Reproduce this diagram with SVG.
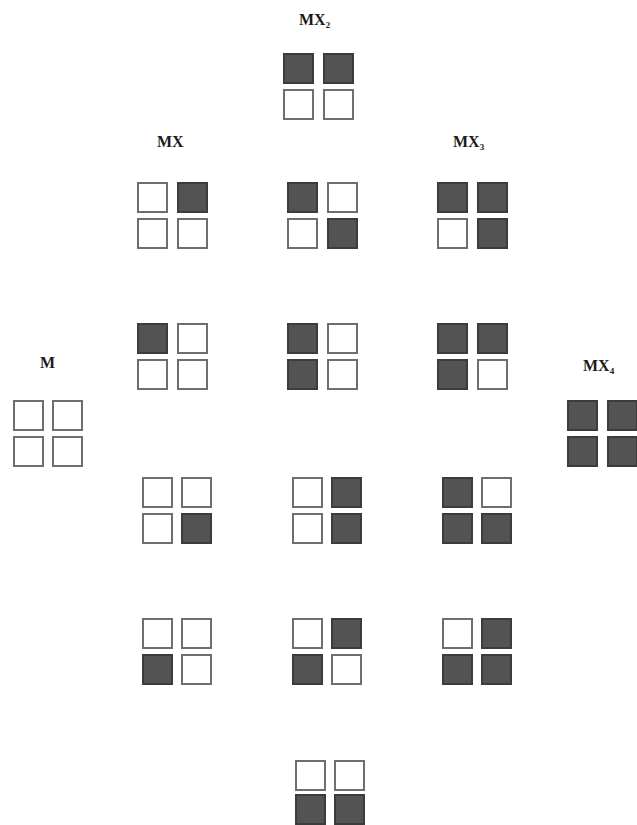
<svg xmlns="http://www.w3.org/2000/svg" width="637" height="825" viewBox="0 0 637 825">
<style>
.e{fill:#ffffff;stroke:#6e6e6e;stroke-width:2}
.f{fill:#535353;stroke:#3c3c3c;stroke-width:2}
.lbl{font-family:"Liberation Serif","Times New Roman",serif;font-weight:bold;font-size:16px;fill:#1a1a1a}
.sub{font-size:9px}
</style>
<rect width="637" height="825" fill="#ffffff"/>
<g id="label-MX2"><text class="lbl" x="299" y="25">MX<tspan class="sub" dy="3">2</tspan></text></g>
<g id="label-MX"><text class="lbl" x="157" y="147">MX</text></g>
<g id="label-MX3"><text class="lbl" x="453" y="147">MX<tspan class="sub" dy="3">3</tspan></text></g>
<g id="label-M"><text class="lbl" x="40" y="368">M</text></g>
<g id="label-MX4"><text class="lbl" x="583" y="371">MX<tspan class="sub" dy="3">4</tspan></text></g>

<g id="n-MX2" transform="translate(283,53)">
<rect class="f" x="1" y="1" width="29" height="29"/><rect class="f" x="41" y="1" width="29" height="29"/>
<rect class="e" x="1" y="37" width="29" height="29"/><rect class="e" x="41" y="37" width="29" height="29"/>
</g>

<g id="n-r1a" transform="translate(137,182)">
<rect class="e" x="1" y="1" width="29" height="29"/><rect class="f" x="41" y="1" width="29" height="29"/>
<rect class="e" x="1" y="37" width="29" height="29"/><rect class="e" x="41" y="37" width="29" height="29"/>
</g>
<g id="n-r1b" transform="translate(287,182)">
<rect class="f" x="1" y="1" width="29" height="29"/><rect class="e" x="41" y="1" width="29" height="29"/>
<rect class="e" x="1" y="37" width="29" height="29"/><rect class="f" x="41" y="37" width="29" height="29"/>
</g>
<g id="n-r1c" transform="translate(437,182)">
<rect class="f" x="1" y="1" width="29" height="29"/><rect class="f" x="41" y="1" width="29" height="29"/>
<rect class="e" x="1" y="37" width="29" height="29"/><rect class="f" x="41" y="37" width="29" height="29"/>
</g>

<g id="n-r2a" transform="translate(137,323)">
<rect class="f" x="1" y="1" width="29" height="29"/><rect class="e" x="41" y="1" width="29" height="29"/>
<rect class="e" x="1" y="37" width="29" height="29"/><rect class="e" x="41" y="37" width="29" height="29"/>
</g>
<g id="n-r2b" transform="translate(287,323)">
<rect class="f" x="1" y="1" width="29" height="29"/><rect class="e" x="41" y="1" width="29" height="29"/>
<rect class="f" x="1" y="37" width="29" height="29"/><rect class="e" x="41" y="37" width="29" height="29"/>
</g>
<g id="n-r2c" transform="translate(437,323)">
<rect class="f" x="1" y="1" width="29" height="29"/><rect class="f" x="41" y="1" width="29" height="29"/>
<rect class="f" x="1" y="37" width="29" height="29"/><rect class="e" x="41" y="37" width="29" height="29"/>
</g>

<g id="n-M" transform="translate(13,400)">
<rect class="e" x="1" y="1" width="29" height="29"/><rect class="e" x="40" y="1" width="29" height="29"/>
<rect class="e" x="1" y="37" width="29" height="29"/><rect class="e" x="40" y="37" width="29" height="29"/>
</g>
<g id="n-MX4" transform="translate(567,400)">
<rect class="f" x="1" y="1" width="29" height="29"/><rect class="f" x="41" y="1" width="29" height="29"/>
<rect class="f" x="1" y="37" width="29" height="29"/><rect class="f" x="41" y="37" width="29" height="29"/>
</g>

<g id="n-r3a" transform="translate(142,477)">
<rect class="e" x="1" y="1" width="29" height="29"/><rect class="e" x="40" y="1" width="29" height="29"/>
<rect class="e" x="1" y="37" width="29" height="29"/><rect class="f" x="40" y="37" width="29" height="29"/>
</g>
<g id="n-r3b" transform="translate(292,477)">
<rect class="e" x="1" y="1" width="29" height="29"/><rect class="f" x="40" y="1" width="29" height="29"/>
<rect class="e" x="1" y="37" width="29" height="29"/><rect class="f" x="40" y="37" width="29" height="29"/>
</g>
<g id="n-r3c" transform="translate(442,477)">
<rect class="f" x="1" y="1" width="29" height="29"/><rect class="e" x="40" y="1" width="29" height="29"/>
<rect class="f" x="1" y="37" width="29" height="29"/><rect class="f" x="40" y="37" width="29" height="29"/>
</g>

<g id="n-r4a" transform="translate(142,618)">
<rect class="e" x="1" y="1" width="29" height="29"/><rect class="e" x="40" y="1" width="29" height="29"/>
<rect class="f" x="1" y="37" width="29" height="29"/><rect class="e" x="40" y="37" width="29" height="29"/>
</g>
<g id="n-r4b" transform="translate(292,618)">
<rect class="e" x="1" y="1" width="29" height="29"/><rect class="f" x="40" y="1" width="29" height="29"/>
<rect class="f" x="1" y="37" width="29" height="29"/><rect class="e" x="40" y="37" width="29" height="29"/>
</g>
<g id="n-r4c" transform="translate(442,618)">
<rect class="e" x="1" y="1" width="29" height="29"/><rect class="f" x="40" y="1" width="29" height="29"/>
<rect class="f" x="1" y="37" width="29" height="29"/><rect class="f" x="40" y="37" width="29" height="29"/>
</g>

<g id="n-bottom" transform="translate(295,760)">
<rect class="e" x="1" y="1" width="29" height="29"/><rect class="e" x="40" y="1" width="29" height="29"/>
<rect class="f" x="1" y="35" width="29" height="29"/><rect class="f" x="40" y="35" width="29" height="29"/>
</g>

<g id="connectors"></g>
</svg>
